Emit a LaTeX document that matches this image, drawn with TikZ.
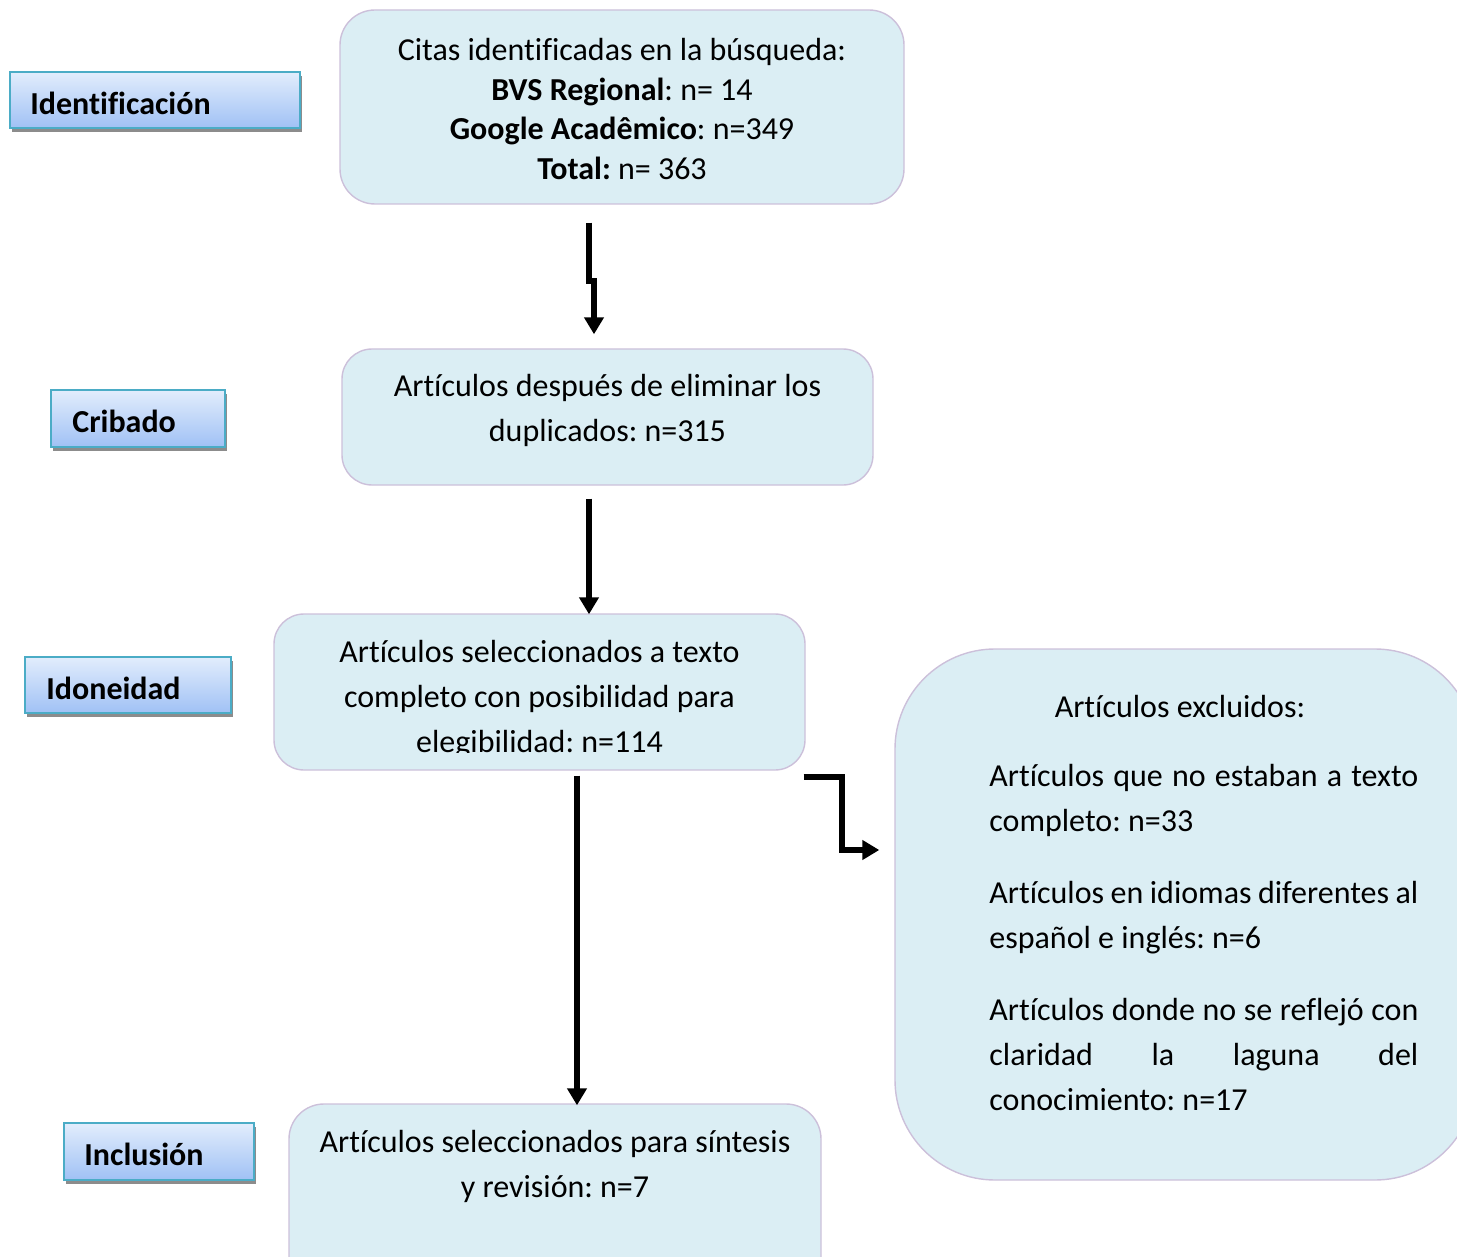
\documentclass[tikz,border=0pt]{standalone}
\usepackage{fontspec}
\setmainfont{Carlito}[Ligatures={NoCommon}]
\usetikzlibrary{arrows.meta,shadows}
\definecolor{boxfill}{RGB}{219,238,244}
\definecolor{boxline}{RGB}{204,192,218}
\definecolor{lbltop}{RGB}{226,237,252}
\definecolor{lblbot}{RGB}{160,193,245}
\definecolor{lblline}{RGB}{75,172,198}
\newlength{\exw}
\setlength{\exw}{214.5pt}
\newcommand{\jline}[1]{\leavevmode\hbox to \exw{#1}}
\tikzset{
  mainbox/.style={draw=boxline, line width=0.7pt, fill=boxfill, inner sep=0pt},
  lblbox/.style={draw=lblline, line width=0.8pt, top color=lbltop, bottom color=lblbot,
    inner sep=0pt, drop shadow={shadow xshift=1pt, shadow yshift=-2pt, fill=black!45, opacity=1}},
  lbltxt/.style={anchor=west, inner sep=0pt, font=\fontsize{16}{19.75}\selectfont\bfseries},
  txt/.style={inner sep=0pt, align=center, font=\fontsize{16}{22.5}\selectfont},
  arr/.style={line width=3pt, -{Triangle[length=8.5pt,width=9.5pt]}},
}
\begin{document}
\frenchspacing
\begin{tikzpicture}[x=0.5pt,y=-0.5pt]
\useasboundingbox (0,0) rectangle (1457,1257);
\clip (0,0) rectangle (1457,1257);

% stage labels
\node[lblbox, minimum width=145pt, minimum height=28pt] (l1) at (155,100) {};
\node[lbltxt] (l1t) at (30,103) {Identificación};
\node[lblbox, minimum width=87pt, minimum height=28.5pt] (l2) at (138,418.5) {};
\node[lbltxt] (l2t) at (72,421) {Cribado};
\node[lblbox, minimum width=103pt, minimum height=28pt] (l3) at (128,685) {};
\node[lbltxt] (l3t) at (46,688) {Idoneidad};
\node[lblbox, minimum width=95pt, minimum height=28.5pt] (l4) at (159,1151.5) {};
\node[lbltxt] (l4t) at (84,1154) {Inclusión};

% main boxes
\node[mainbox, rounded corners=17.5pt, minimum width=282pt, minimum height=97pt] (b1) at (622,107) {};
\node[txt, font=\fontsize{16}{19.75}\selectfont] (b1t) at (622,109)
  {Citas identificadas en la búsqueda:\\
   \textbf{BVS Regional}: n= 14\\
   \textbf{Google Acadêmico}: n=349\\
   \textbf{Total:} n= 363};

\node[mainbox, rounded corners=15pt, minimum width=265.5pt, minimum height=68pt] (b2) at (607.5,417) {};
\node[txt] (b2t) at (607.5,410) {Artículos después de eliminar los\\duplicados: n=315};

\node[mainbox, rounded corners=15pt, minimum width=265.5pt, minimum height=78pt] (b3) at (539.5,692) {};
\begin{scope}
\clip (274,600) rectangle (805,752);
\node[txt] (b3t) at (539.5,699) {Artículos seleccionados a texto\\completo con posibilidad para\\elegibilidad: n=114};
\end{scope}

\node[mainbox, rounded corners=17.5pt, minimum width=266pt, minimum height=100pt] (b4) at (555,1204) {};
\node[txt] (b4t) at (555,1166) {Artículos seleccionados para síntesis\\y revisión: n=7};

\node[mainbox, rounded corners=50pt, minimum width=290pt, minimum height=265.5pt] (ex) at (1185,914.5) {};
\node[txt] (ext) at (1180,707) {Artículos excluidos:};
\node[txt, anchor=north west, align=flush left, text width=\exw] (exl) at (989,764)
  {\jline{Artículos\hfill que\hfill no\hfill estaban\hfill a\hfill texto}\\
   completo: n=33\\[13.5pt]
   \jline{Artículos\hfill en\hfill idiomas\hfill diferentes\hfill al}\\
   español e inglés: n=6\\[13.5pt]
   \jline{Artículos\hfill donde\hfill no\hfill se\hfill reflejó\hfill con}\\
   \jline{claridad\hfill la\hfill laguna\hfill del}\\
   conocimiento: n=17};

% connectors
\draw[arr] ([xshift=-16.5pt,yshift=-9pt]b1.south) -- ++(0,58)
   -| ([xshift=-6.75pt,yshift=7pt]b2.north);
\draw[arr] ([xshift=-9.25pt,yshift=-6.5pt]b2.south) -- ([xshift=24.75pt,yshift=-0.5pt]b3.north);
\draw[arr] ([xshift=18.75pt,yshift=-2.5pt]b3.south) -- ([xshift=11pt,yshift=-1pt]b4.north);
\draw[arr] ([xshift=-1pt,yshift=-3pt]b3.south east) -- ++(38,0)
   |- ([xshift=-7.5pt,yshift=32.25pt]ex.west);
\end{tikzpicture}
\end{document}
